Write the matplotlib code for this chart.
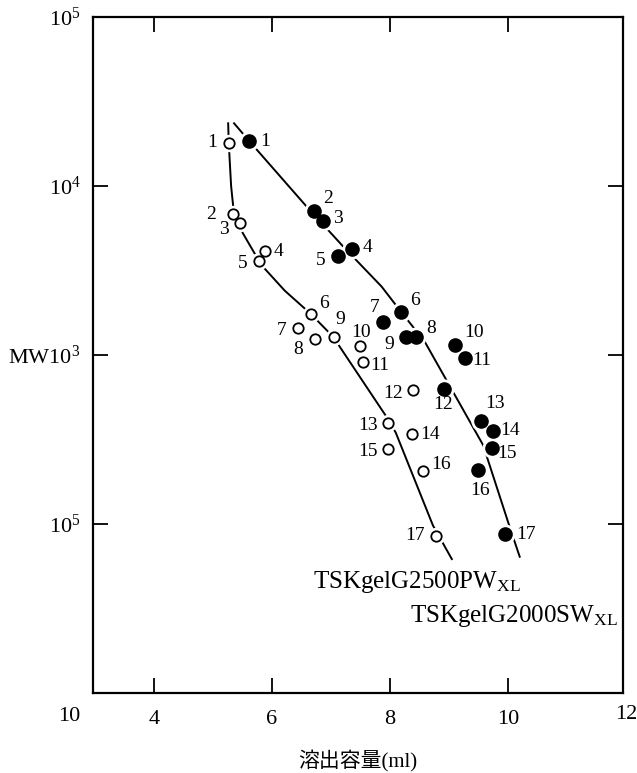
import matplotlib
matplotlib.use("Agg")
import matplotlib.pyplot as plt

plt.rcParams['font.family'] = ['Liberation Serif', 'Noto Sans CJK JP']
plt.rcParams['mathtext.fontset'] = 'custom'
plt.rcParams['mathtext.rm'] = 'Liberation Serif'
plt.rcParams['mathtext.it'] = 'Liberation Serif:italic'
plt.rcParams['mathtext.bf'] = 'Liberation Serif:bold'

# standards 1..17, elution volume (ml) and molecular weight
pw_vol = [5.28, 5.34, 5.46, 5.89, 5.78, 6.66, 6.45, 6.73, 7.06, 7.50, 7.54, 8.40, 7.97, 8.37, 7.97, 8.56, 8.78]
pw_mw = [18000, 6800, 6000, 4100, 3600, 1750, 1450, 1250, 1270, 1130, 910, 620, 395, 340, 277, 206, 85]
sw_vol = [5.62, 6.72, 6.86, 7.36, 7.12, 8.19, 7.88, 8.44, 8.28, 9.10, 9.27, 8.92, 9.55, 9.75, 9.73, 9.49, 9.95]
sw_mw = [18400, 7080, 6200, 4220, 3870, 1800, 1560, 1280, 1280, 1150, 955, 630, 408, 357, 281, 209, 87]

# calibration curves as drawn
pw_curve_vol = [5.26, 5.27, 5.31, 5.36, 5.51, 5.71, 5.88, 6.22, 6.66, 7.06, 7.15, 7.95, 8.10, 8.73, 9.05]
pw_curve_mw = [23500, 18000, 10000, 6760, 5250, 3980, 3240, 2400, 1750, 1260, 1120, 427, 347, 98, 62]
sw_curve_vol = [5.36, 5.62, 6.59, 7.21, 7.86, 8.19, 8.59, 9.58, 10.03, 10.20]
sw_curve_mw = [23500, 18400, 7550, 4380, 2540, 1800, 1200, 293, 96, 64]

x_ticks = [4, 6, 8, 10]
y_ticks = [1e2, 1e3, 1e4, 1e5]
y_ticklabels = ['$10^5$', 'MW$10^3$', '$10^4$', '$10^5$']

# label offsets in pixels (right, down)
pw_lab_off = [(-17, 0), (-22, 0), (-16, 6), (13, 0), (-16, 3), (13, -10), (-17, 3), (-17, 11), (6, -18),
              (1, -14), (17, 4), (-20, 3), (-20, 2), (18, 0), (-20, 2), (18, -6), (-21, 0)]
sw_lab_off = [(16, 0), (14, -13), (15, -3), (15, -2), (-17, 5), (14, -11), (-8, -15), (15, -8), (-17, 8),
              (19, -12), (17, 2), (-1, 16), (14, -17), (17, 0), (15, 5), (2, 21), (21, 0)]

fig = plt.figure(figsize=(6.37, 7.73), dpi=100)
ax = fig.add_axes([93/637, 1-693/773, (623-93)/637, (693-17)/773])

ax.plot(pw_curve_vol, pw_curve_mw, color='black', lw=1.4, zorder=2)
ax.plot(sw_curve_vol, sw_curve_mw, color='black', lw=1.4, zorder=2)

# white halo so the curves stop short of the symbols
ax.plot(pw_vol, pw_mw, 'o', ms=11.5, color='white', mec='white', zorder=3)
ax.plot(sw_vol, sw_mw, 'o', ms=13.5, color='white', mec='white', zorder=3)
ax.plot(pw_vol, pw_mw, 'o', ms=7.5, mfc='white', mec='black', mew=1.3, zorder=4)
ax.plot(sw_vol, sw_mw, 'o', ms=9.5, mfc='black', mec='black', zorder=4)

for i in range(len(pw_vol)):
    dx, dy = pw_lab_off[i]
    ax.annotate(str(i + 1), (pw_vol[i], pw_mw[i]), xytext=(dx, -dy), textcoords='offset pixels',
                ha='center', va='center', fontsize=14)
for i in range(len(sw_vol)):
    dx, dy = sw_lab_off[i]
    ax.annotate(str(i + 1), (sw_vol[i], sw_mw[i]), xytext=(dx, -dy), textcoords='offset pixels',
                ha='center', va='center', fontsize=14)

fig.text(313/637, 1-588/773, r'TSKgelG2500PW$_{\mathrm{XL}}$', fontsize=18, ha='left', va='baseline')
fig.text(410/637, 1-622/773, r'TSKgelG2000SW$_{\mathrm{XL}}$', fontsize=18, ha='left', va='baseline')

ax.set_yscale('log')
ax.set_xlim(2.97, 11.95)
ax.set_ylim(10, 1e5)
ax.set_xticks(x_ticks)
ax.set_xticklabels([str(t) for t in x_ticks], fontsize=16)
ax.set_yticks(y_ticks)
ax.set_yticklabels(y_ticklabels, fontsize=16)
ax.minorticks_off()
ax.tick_params(direction='in', top=True, right=True, length=11, width=1.3, pad=9)
ax.tick_params(axis='x', pad=12)
for s in ax.spines.values():
    s.set_linewidth(1.6)

# corner labels: 12 at the right end of x, 10 at the foot of the log axis
ax.annotate('12', (12, 10), xytext=(0, -12), textcoords='offset pixels',
            ha='center', va='top', fontsize=16, annotation_clip=False)
ax.annotate('10', (2.97, 10), xytext=(-24, -14), textcoords='offset pixels',
            ha='center', va='top', fontsize=16, annotation_clip=False)

ax.set_xlabel('溶出容量(ml)', fontsize=15, labelpad=16)

plt.savefig('out.png', dpi=100)
